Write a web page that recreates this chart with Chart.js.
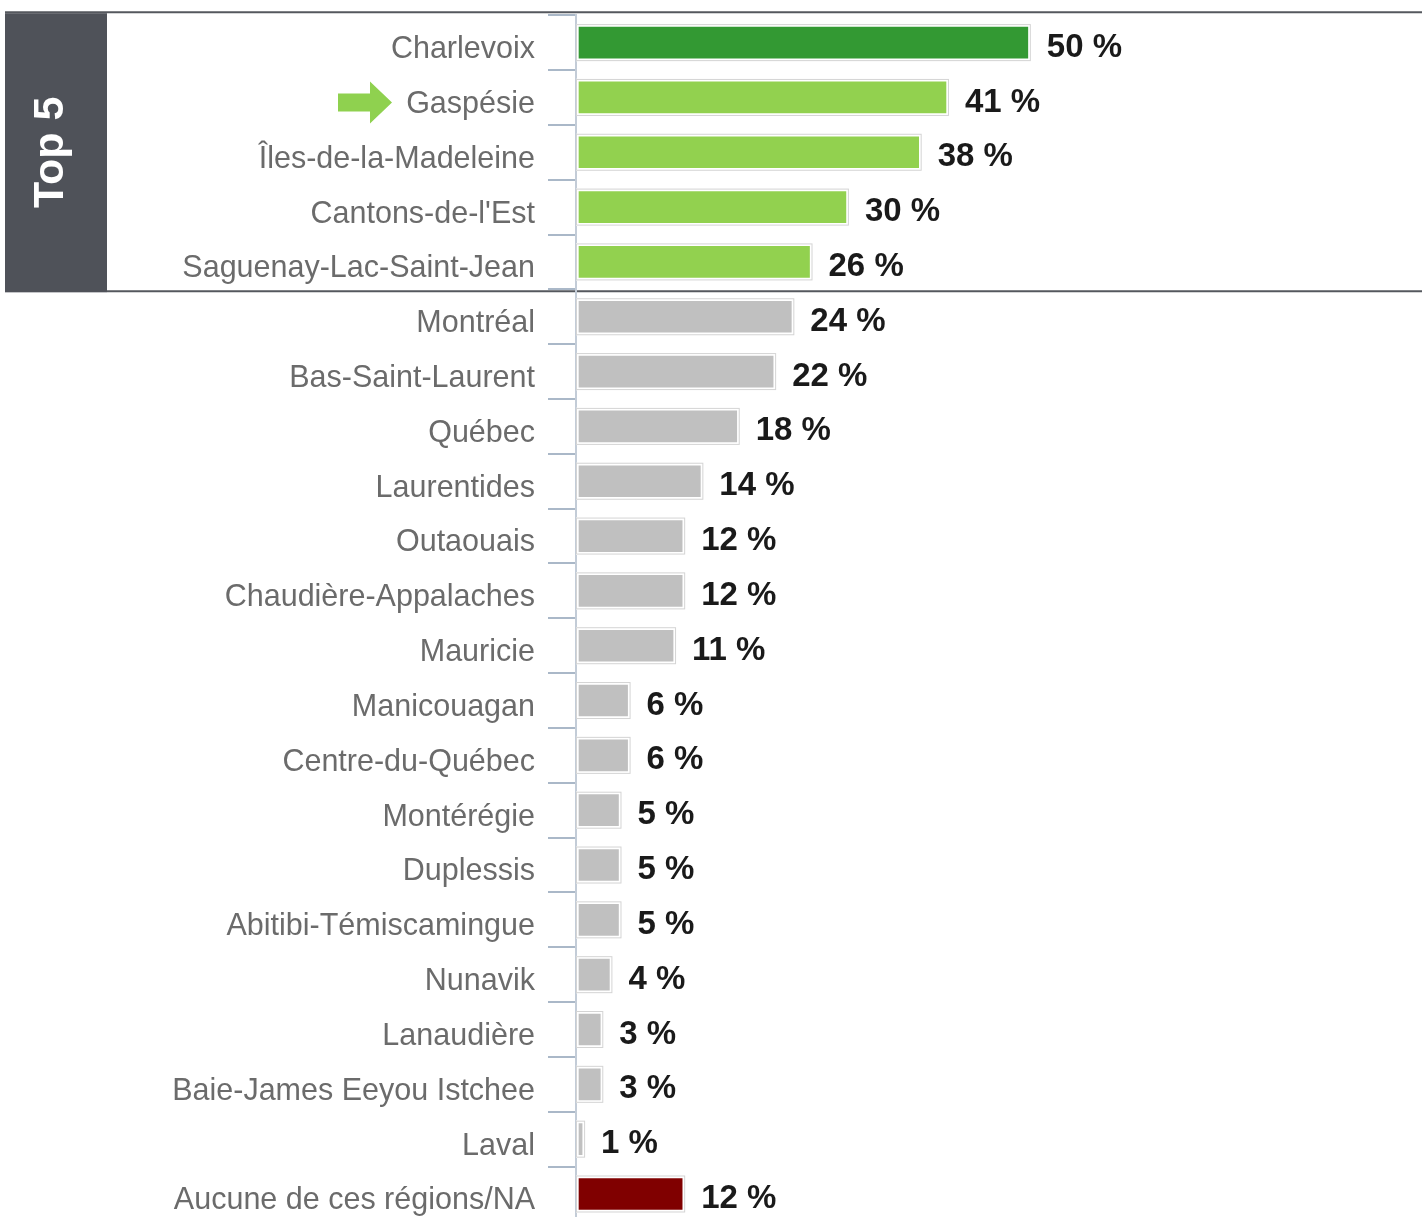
<!DOCTYPE html>
<html>
<head>
<meta charset="utf-8">
<script src="https://cdn.jsdelivr.net/npm/chart.js@4/dist/chart.umd.min.js"></script>
<style>
  html, body { margin: 0; padding: 0; background: #fff; overflow: hidden; }
  #wrap { position: relative; width: 1422px; height: 1260px; }
</style>
</head>
<body>
<div id="wrap"><canvas id="c" width="1422" height="1260"></canvas></div>
<script>
// ── data ──────────────────────────────────────────────────────────────────────
var REGIONS = [
  "Charlevoix", "Gaspésie", "Îles-de-la-Madeleine", "Cantons-de-l'Est",
  "Saguenay-Lac-Saint-Jean", "Montréal", "Bas-Saint-Laurent", "Québec",
  "Laurentides", "Outaouais", "Chaudière-Appalaches", "Mauricie",
  "Manicouagan", "Centre-du-Québec", "Montérégie", "Duplessis",
  "Abitibi-Témiscamingue", "Nunavik", "Lanaudière", "Baie-James Eeyou Istchee",
  "Laval", "Aucune de ces régions/NA"
];
var SHARES = [50, 41, 38, 30, 26, 24, 22, 18, 14, 12, 12, 11, 6, 6, 5, 5, 5, 4, 3, 3, 1, 12];
var TOP_N = 5;
var HIGHLIGHT = "Gaspésie";
var BOX_LABEL = "Top 5";

var FONT = '"Liberation Sans", Arial, Helvetica, sans-serif';

function barColor(i) {
  if (i === 0) return "#339933";
  if (i < TOP_N) return "#92d14f";
  if (i === REGIONS.length - 1) return "#800000";
  return "#c0c0c0";
}

// ── plugins ───────────────────────────────────────────────────────────────────
// outer light-grey outline around each bar (the white inset comes from borderColor)
var outline = {
  id: "outline",
  afterDatasetsDraw: function (chart) {
    var ctx = chart.ctx;
    var meta = chart.getDatasetMeta(0);
    ctx.save();
    ctx.strokeStyle = "#d4d4d4";
    ctx.lineWidth = 1;
    meta.data.forEach(function (bar) {
      var top = bar.y - bar.height / 2, left = bar.base;
      ctx.strokeRect(left + 0.5, top + 0.5, bar.x - left - 1, bar.height - 1);
    });
    ctx.restore();
  }
};

// "NN %" labels at the end of each bar
var valueLabels = {
  id: "valueLabels",
  afterDatasetsDraw: function (chart) {
    var ctx = chart.ctx;
    var meta = chart.getDatasetMeta(0);
    ctx.save();
    ctx.font = "bold 33px " + FONT;
    ctx.fillStyle = "#1a1a1a";
    ctx.textAlign = "left";
    ctx.textBaseline = "middle";
    meta.data.forEach(function (bar, i) {
      ctx.fillText(SHARES[i] + " %", bar.x + 16, bar.y + 5);
    });
    ctx.restore();
  }
};

// Top-5 box, separator lines and the arrow next to the highlighted region
var decor = {
  id: "decor",
  beforeDraw: function (chart) {
    var ctx = chart.ctx, y = chart.scales.y, W = chart.width;
    var top = y.top, split = (y.getPixelForValue(TOP_N - 1) + y.getPixelForValue(TOP_N)) / 2;
    ctx.save();
    // dark box
    ctx.fillStyle = "#4f5259";
    ctx.fillRect(5, top - 2, 102, split - top + 5);
    ctx.fillStyle = "#fff";
    ctx.font = "bold 43px " + FONT;
    ctx.textAlign = "center";
    ctx.textBaseline = "alphabetic";
    ctx.translate(63, (top + split) / 2);
    ctx.rotate(-Math.PI / 2);
    ctx.fillText(BOX_LABEL, 0, 0);
    ctx.restore();

    ctx.save();
    ctx.strokeStyle = "#55585e";
    ctx.lineWidth = 2;
    ctx.beginPath();
    ctx.moveTo(5, top - 3); ctx.lineTo(W, top - 3);
    ctx.moveTo(107, split + 2); ctx.lineTo(W, split + 2);
    ctx.stroke();

    // arrow, aligned with the highlighted label
    var ay = y.getPixelForValue(REGIONS.indexOf(HIGHLIGHT)) + 5;
    ctx.fillStyle = "#8fd14f";
    ctx.beginPath();
    ctx.moveTo(338, ay - 9);
    ctx.lineTo(370, ay - 9);
    ctx.lineTo(370, ay - 21);
    ctx.lineTo(392, ay);
    ctx.lineTo(370, ay + 21);
    ctx.lineTo(370, ay + 9);
    ctx.lineTo(338, ay + 9);
    ctx.closePath();
    ctx.fill();
    ctx.restore();
  }
};

// ── chart ─────────────────────────────────────────────────────────────────────
new Chart(document.getElementById("c").getContext("2d"), {
  type: "bar",
  data: {
    labels: REGIONS,
    datasets: [{
      data: SHARES,
      backgroundColor: SHARES.map(function (v, i) { return barColor(i); }),
      borderColor: "#ffffff",
      borderWidth: 3,
      borderSkipped: false,
      barThickness: 37
    }]
  },
  plugins: [decor, outline, valueLabels],
  options: {
    indexAxis: "y",
    responsive: false,
    devicePixelRatio: 1,
    animation: false,
    layout: { padding: { top: 15.2, bottom: 38.6, left: 0, right: 0 } },
    plugins: { legend: { display: false }, tooltip: { enabled: false }, title: { display: false } },
    scales: {
      x: { display: false, min: 0, max: 93 },
      y: {
        afterFit: function (s) { s.width = 576; s.paddingTop = 0; s.paddingBottom = 0; },
        grid: { offset: true, drawOnChartArea: false, tickLength: 28, tickColor: "#aab8c8", lineWidth: 2 },
        border: { display: true, color: "#c3ccd7", width: 2 },
        ticks: { color: "#6b6b6b", padding: 13, labelOffset: 7, font: { family: FONT, size: 30.5, lineHeight: 0.1 } }
      }
    }
  }
});
</script>
</body>
</html>
